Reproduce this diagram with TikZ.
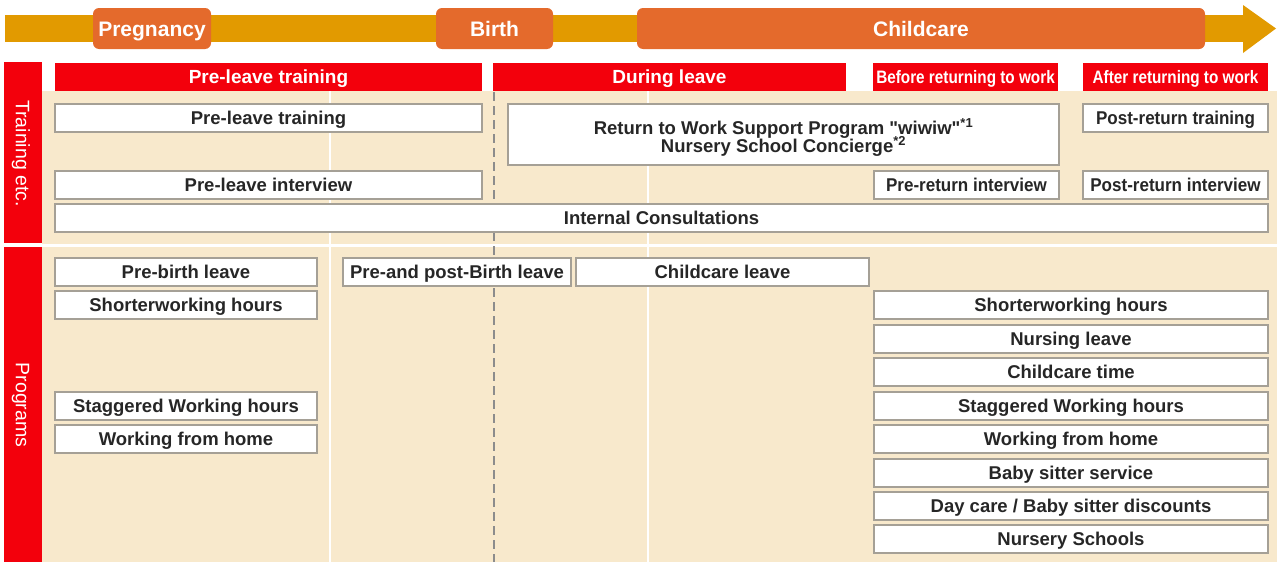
\documentclass[tikz,border=0pt]{standalone}
\usepackage{fontspec}
\setmainfont{Liberation Sans}
\newfontfamily\narrowfont[FakeStretch=0.85]{Liberation Sans}
\newfontfamily\semicondfont[FakeStretch=0.92]{Liberation Sans}
\newcommand{\plainquoted}[1]{{\addfontfeatures{Ligatures=TeXOff}"#1"}}
\definecolor{bargold}{RGB}{226,154,0}
\definecolor{stageorange}{RGB}{228,106,44}
\definecolor{headred}{RGB}{243,0,12}
\definecolor{beige}{RGB}{248,233,204}
\definecolor{boxline}{RGB}{165,160,150}
\definecolor{inkgray}{RGB}{38,38,38}
\definecolor{dashgray}{RGB}{140,140,140}
\begin{document}
\begin{tikzpicture}[x=1pt,y=-1pt,
  stage/.style={fill=stageorange, rounded corners=6pt, minimum height=41pt, inner sep=0pt,
    text=white, text height=15pt, text depth=0pt, font=\fontsize{21}{24}\selectfont\bfseries},
  header/.style={fill=headred, minimum height=28pt, inner sep=0pt, text=white,
    text height=13.6pt, text depth=0pt, font=\fontsize{19}{22}\selectfont\bfseries},
  narrowheader/.style={header, text height=12.9pt, font=\narrowfont\fontsize{18}{22}\selectfont\bfseries},
  item/.style={draw=boxline, line width=1.5pt, fill=white, minimum height=28pt, inner sep=0pt,
    text=inkgray, text height=13.3pt, text depth=0pt, font=\fontsize{18.5}{21}\selectfont\bfseries},
  itemtext/.style={inner sep=0pt, text=inkgray, text height=13.3pt, text depth=0pt,
    font=\fontsize{18.5}{21}\selectfont\bfseries},
  narrowitem/.style={item, font=\semicondfont\fontsize{18.5}{21}\selectfont\bfseries},
  band/.style={fill=headred, draw=none},
  sidelabel/.style={text=white, rotate=-90, inner sep=0pt, text height=14pt, text depth=0pt,
    font=\fontsize{19.5}{22}\selectfont},
  gridline/.style={white, line width=1.5pt},
  birthline/.style={dashgray, line width=2pt, dash pattern=on 9pt off 5pt}
]
\useasboundingbox (0,0) rectangle (1277,562);
\fill[white] (0,0) rectangle (1277,562);

% timeline arrow
\fill[bargold] (5,15) rectangle (1245,42);
\fill[bargold] (1243,5) -- (1276,28.5) -- (1243,53) -- cycle;
\node[stage, minimum width=118pt] (pregnancy) at (152,28.5) {Pregnancy};
\node[stage, minimum width=117pt] (birth) at (494.5,28.5) {Birth};
\node[stage, minimum width=568pt] (childcare) at (921,28.5) {Childcare};

% background panel
\fill[beige] (42,91) rectangle (1277,562);
\draw[gridline] (330,91) -- (330,562);
\draw[gridline] (648,91) -- (648,562);

% side bands
\fill[band] (4,62) rectangle (42,243);
\fill[band] (4,247) rectangle (42,562);
\node[sidelabel] (lblTraining) at (23,153.5) {Training etc.};
\node[sidelabel] (lblPrograms) at (23,405) {Programs};
\draw[white, line width=3pt] (0,245) -- (1277,245);

% birth marker
\coordinate (dashTop) at (494,92);
\coordinate (dashBot) at (494,562);
\draw[birthline] (dashTop) -- (dashBot);

% column headers
\node[header, minimum width=427pt] (hPre) at (268.5,77) {Pre-leave training};
\node[header, minimum width=353pt] (hDuring) at (669.5,77) {During leave};
\node[narrowheader, minimum width=185pt] (hBefore) at (965.5,77) {Before returning to work};
\node[narrowheader, minimum width=185pt] (hAfter) at (1175.5,77) {After returning to work};

% training rows
\node[item, minimum width=551pt, minimum height=61pt] (tSupport) at (783.5,134.5) {};
\node[itemtext] (tSupportA) at (783.5,127.5) {Return to Work Support Program \plainquoted{wiwiw}\textsuperscript{*1}};
\node[itemtext] (tSupportB) at (783.5,145.5) {Nursery School Concierge\textsuperscript{*2}};
\node[item, minimum width=427pt] (tPreTrain) at (268.5,118) {Pre-leave training};
\node[narrowitem, minimum width=185pt] (tPostTrain) at (1175.5,118) {Post-return training};
\node[item, minimum width=427pt] (tPreInt) at (268.5,185) {Pre-leave interview};
\node[narrowitem, minimum width=185pt] (tPreRet) at (966.5,185) {Pre-return interview};
\node[narrowitem, minimum width=185pt] (tPostInt) at (1175.5,185) {Post-return interview};
\node[item, minimum width=1213pt] (tConsult) at (661.5,218) {Internal Consultations};

% program rows, left
\node[item, minimum width=262pt] (pPreBirth) at (186,272) {Pre-birth leave};
\node[item, minimum width=228pt] (pPrePost) at (457,272) {Pre-and post-Birth leave};
\node[item, minimum width=293pt] (pChildLeave) at (722.5,272) {Childcare leave};
\node[item, minimum width=262pt] (pShortA) at (186,305) {Shorterworking hours};
\node[item, minimum width=262pt] (pStagA) at (186,406) {Staggered Working hours};
\node[item, minimum width=262pt] (pHomeA) at (186,439) {Working from home};

% program rows, right
\node[item, minimum width=394pt] (pShortB) at (1071,305) {Shorterworking hours};
\node[item, minimum width=394pt] (pNursing) at (1071,339) {Nursing leave};
\node[item, minimum width=394pt] (pCareTime) at (1071,372) {Childcare time};
\node[item, minimum width=394pt] (pStagB) at (1071,406) {Staggered Working hours};
\node[item, minimum width=394pt] (pHomeB) at (1071,439) {Working from home};
\node[item, minimum width=394pt] (pSitter) at (1071,473) {Baby sitter service};
\node[item, minimum width=394pt] (pDiscount) at (1071,506) {Day care / Baby sitter discounts};
\node[item, minimum width=394pt] (pNursery) at (1071,539) {Nursery Schools};
\end{tikzpicture}
\end{document}
